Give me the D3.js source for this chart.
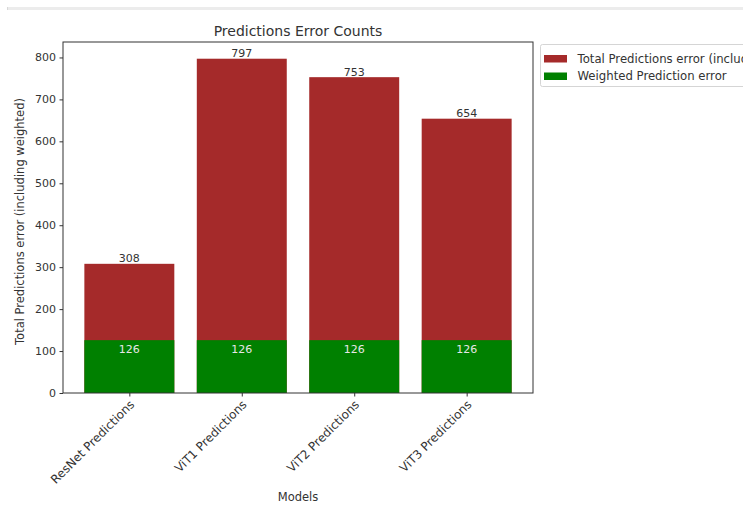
<!DOCTYPE html>
<html><head><meta charset="utf-8">
<script src="https://cdn.jsdelivr.net/npm/d3@7"></script>
<style>body{margin:0;background:#fff;} svg{display:block;font-family:"DejaVu Sans",sans-serif;}</style>
</head><body>
<svg id="c" width="743" height="505"></svg>
<script>
const categories = ["ResNet Predictions","ViT1 Predictions","ViT2 Predictions","ViT3 Predictions"];
const totalErrors = [308, 797, 753, 654];
const weightedErrors = [126, 126, 126, 126];
const yTicks = [0,100,200,300,400,500,600,700,800];
const seriesNames = ["Total Predictions error (including weighted)","Weighted Prediction error"];
const colors = ["#a52a2a","#008000"];

const svg = d3.select("#c");
const txt = "#333";
// notebook frame band
svg.append("rect").attr("x",7).attr("y",7).attr("width",736).attr("height",3).attr("fill","#ececec");
svg.append("rect").attr("x",7).attr("y",7).attr("width",1).attr("height",3).attr("fill","#d8d8d8");

const L=63, R=533, T=42, B=393;
const n = categories.length;
const x = d3.scaleLinear().domain([-0.59, n-1+0.59]).range([L,R]);
const y = d3.scaleLinear().domain([0, d3.max(totalErrors)*1.05]).range([B,T]);
const bw = 0.8;

const g = svg.append("g");
g.selectAll(".tot").data(totalErrors).join("rect")
  .attr("x",(d,i)=>x(i-bw/2)).attr("width",x(bw)-x(0))
  .attr("y",d=>y(d)).attr("height",d=>B-y(d)).attr("fill",colors[0]);
g.selectAll(".w").data(weightedErrors).join("rect")
  .attr("x",(d,i)=>x(i-bw/2)).attr("width",x(bw)-x(0))
  .attr("y",d=>y(d)).attr("height",d=>B-y(d)).attr("fill",colors[1]);

// labels
g.selectAll(".tl").data(totalErrors).join("text")
  .attr("x",(d,i)=>x(i)).attr("y",d=>y(d)-1.5).attr("text-anchor","middle")
  .attr("font-size",11).attr("fill",txt).text(d=>d);
g.selectAll(".wl").data(weightedErrors).join("text")
  .attr("x",(d,i)=>x(i)).attr("y",d=>y(d)+13).attr("text-anchor","middle")
  .attr("font-size",11).attr("fill","#e6e6e6").text(d=>d);

// axes
const yAxis = d3.axisLeft(y).tickValues(yTicks).tickSize(3.5).tickPadding(3.5);
const ya = svg.append("g").attr("transform",`translate(${L},0)`).call(yAxis);
ya.select(".domain").remove();
ya.selectAll("text").attr("font-size",11).attr("fill",txt).attr("font-family","DejaVu Sans");
ya.selectAll("line").attr("stroke",txt);

const xAxis = d3.axisBottom(x).tickValues(d3.range(n)).tickSize(3.5).tickFormat(i=>categories[i]);
const xa = svg.append("g").attr("transform",`translate(0,${B})`).call(xAxis);
xa.select(".domain").remove();
xa.selectAll("line").attr("stroke",txt);
xa.selectAll("text").attr("font-size",12).attr("fill",txt).attr("font-family","DejaVu Sans")
  .attr("text-anchor","end").attr("dy",null).attr("y",0)
  .attr("transform","translate(-1,6) rotate(-45)").attr("dominant-baseline","hanging");

// frame
svg.append("rect").attr("x",L).attr("y",T).attr("width",R-L).attr("height",B-T)
  .attr("fill","none").attr("stroke",txt).attr("stroke-width",1);

// titles
svg.append("text").attr("x",(L+R)/2).attr("y",36).attr("text-anchor","middle")
  .attr("font-size",14).attr("fill",txt).text("Predictions Error Counts");
svg.append("text").attr("x",(L+R)/2).attr("y",501).attr("text-anchor","middle")
  .attr("font-size",11.5).attr("fill",txt).text("Models");
svg.append("text").attr("transform",`translate(23.5,${(T+B)/2+4}) rotate(-90)`).attr("text-anchor","middle")
  .attr("font-size",11.5).attr("fill",txt).text("Total Predictions error (including weighted)");

// legend
const lg = svg.append("g").attr("transform","translate(540,44)");
lg.append("rect").attr("x",0.5).attr("y",0.5).attr("width",280).attr("height",42).attr("rx",2)
  .attr("fill","#fff").attr("stroke","#d5d5d5");
seriesNames.forEach((s,i)=>{
  lg.append("rect").attr("x",4).attr("y",11+i*17.5).attr("width",23).attr("height",7.5).attr("fill",colors[i]);
  lg.append("text").attr("x",37.5).attr("y",18.5+i*17).attr("font-size",11.7).attr("fill",txt).text(s);
});
</script>
</body></html>
